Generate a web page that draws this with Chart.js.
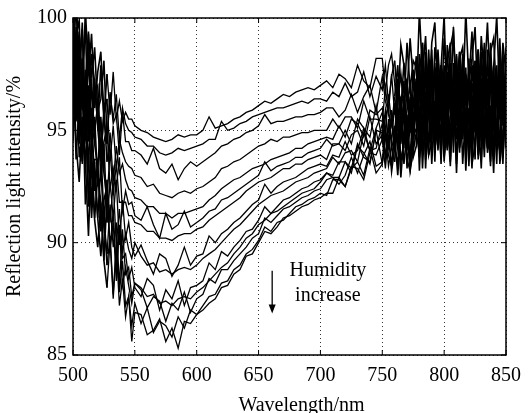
<!DOCTYPE html>
<html lang="en">
<head>
<meta charset="UTF-8">
<title>Reflection spectra vs humidity</title>
<script src="https://cdn.jsdelivr.net/npm/chart.js"></script>
<style>
  html, body { margin: 0; padding: 0; background: #fff; }
  #wrap { width: 530px; height: 413px; }
</style>
</head>
<body>
<div id="wrap"><canvas id="chart"></canvas></div>
<script>
// wavelength axis (nm): denser sampling where the spectra are noisy
const wavelengths = [
  500, 502.5, 505, 507.5, 510, 512.5, 515, 517.5, 520, 522.5, 525, 527.5, 530, 532.5, 535, 537.5, 540, 542.5, 545, 547.5, 550,
  555, 560, 565, 570, 575, 580, 585, 590, 595, 600, 605, 610, 615, 620, 625, 630, 635, 640, 645,
  650, 655, 660, 665, 670, 675, 680, 685, 690, 695, 700, 705, 710, 715, 720, 725, 730, 735, 740, 745,
  750, 752.5, 755, 757.5, 760, 762.5, 765, 767.5, 770, 772.5, 775, 777.5, 780, 782.5, 785, 787.5, 790, 792.5, 795, 797.5,
  800, 802.5, 805, 807.5, 810, 812.5, 815, 817.5, 820, 822.5, 825, 827.5, 830, 832.5, 835, 837.5, 840, 842.5, 845, 847.5, 850
];

// reflection intensity (%), top (dry) to bottom (humid)
const curve1 = [
  101.0, 97.3, 99.4, 95.9, 100.4, 97.5, 99.3, 96.0, 97.6, 98.5, 95.6, 97.5, 95.7, 97.6, 95.5, 96.3, 95.4, 95.8, 95.5, 95.5, 95.2,
  95.0, 94.9, 94.7, 94.6, 94.5, 94.6, 94.8, 94.7, 94.8, 94.8, 95.0, 95.6, 95.1, 95.2, 95.3, 95.5, 95.6, 95.8, 95.9,
  96.1, 96.3, 96.2, 96.4, 96.6, 96.5, 96.7, 96.8, 96.9, 96.8, 97.0, 97.2, 96.9, 97.5, 97.3, 96.9, 97.9, 97.2, 96.9, 98.2,
  98.2, 96.7, 97.9, 98.4, 97.1, 96.1, 98.8, 97.9, 96.7, 99.1, 97.2,
  96.2, 100.3, 97.5, 99.2, 95.9, 98.9, 99.8, 96.4, 97.8, 100.1, 95.7, 98.7, 99.4, 96.8, 98.5,
  96.2, 100.3, 97.1, 98.2, 99.6, 95.9, 99.2, 97.3, 99.8, 96.6, 97.8, 100.1, 96.2, 98.9, 97.5
];
const curve2 = [
  97.2, 101.0, 97.7, 99.5, 95.5, 99.3, 97.3, 98.7, 95.9, 96.4, 98.1, 94.7, 96.6, 95.5, 96.6, 94.6, 96.0, 95.3, 95.0, 94.9, 94.7,
  94.6, 94.3, 94.3, 94.0, 93.9, 94.0, 94.2, 94.1, 94.2, 94.3, 94.4, 94.6, 94.6, 95.4, 95.0, 95.1, 95.3, 95.4, 95.6,
  95.7, 95.8, 95.9, 96.0, 96.0, 96.1, 96.2, 96.3, 96.2, 96.4, 96.4, 96.3, 96.7, 96.5, 97.1, 96.5, 96.7, 97.6, 96.5, 97.4,
  96.8, 97.9, 96.2, 97.4, 98.1, 96.3, 97.5, 96.0, 98.9, 96.8, 98.1,
  97.8, 95.2, 98.9, 96.1, 98.0, 95.0, 98.7, 97.5, 95.7, 99.1, 96.8, 95.9, 99.6, 95.2, 98.2,
  98.7, 96.1, 97.1, 99.4, 95.5, 98.0, 96.8, 98.9, 95.0, 98.5, 99.1, 96.4, 97.8, 95.2, 98.7
];
const curve3 = [
  99.5, 100.9, 96.4, 97.6, 99.6, 95.0, 98.4, 97.1, 95.3, 97.9, 95.5, 94.4, 96.7, 95.3, 95.7, 93.9, 95.8, 94.5, 94.5, 94.1, 94.1,
  93.9, 93.5, 94.2, 93.3, 93.1, 93.5, 92.8, 93.3, 93.6, 93.4, 93.6, 93.8, 94.0, 94.3, 94.4, 94.6, 94.7, 94.9, 95.0,
  95.2, 95.7, 95.3, 95.4, 95.4, 95.5, 95.6, 95.6, 95.7, 95.7, 95.8, 96.0, 96.0, 95.6, 95.9, 96.6, 95.8, 96.5, 97.0, 95.8,
  97.4, 96.3, 95.8, 97.5, 95.7, 97.3, 95.9, 98.0, 96.5, 95.3, 97.7,
  95.9, 97.5, 98.9, 94.5, 97.3, 98.2, 95.2, 98.6, 96.1, 95.4, 98.0, 98.9, 95.0, 97.0, 94.5,
  98.4, 96.3, 97.7, 95.2, 97.3, 98.6, 94.5, 98.2, 96.1, 98.9, 95.6, 96.3, 99.1, 95.4, 97.5
];
const curve4 = [
  96.3, 99.2, 99.9, 96.0, 97.0, 99.4, 94.6, 96.8, 97.0, 94.0, 95.7, 96.4, 93.7, 95.2, 93.3, 94.6, 94.0, 93.6, 93.4, 93.3, 93.0,
  92.9, 92.5, 92.6, 92.2, 92.1, 92.0, 92.2, 92.3, 92.2, 92.4, 92.5, 92.7, 92.9, 93.3, 93.4, 93.6, 93.7, 93.9, 94.1,
  94.3, 94.4, 94.6, 94.5, 94.7, 94.7, 94.8, 94.9, 94.9, 95.0, 95.0, 95.0, 95.5, 95.1, 95.6, 95.6, 95.1, 96.3, 95.5, 95.5,
  95.4, 96.9, 95.7, 95.2, 96.5, 97.9, 95.2, 96.1, 97.3, 94.9, 96.8,
  98.3, 94.2, 97.0, 95.3, 98.6, 95.6, 94.7, 98.1, 96.7, 94.4, 98.8, 95.8, 95.1, 97.7, 96.0,
  98.3, 94.2, 97.4, 96.3, 94.9, 98.6, 95.3, 97.2, 94.7, 97.9, 96.7, 94.4, 98.3, 95.6, 97.0
];
const curve5 = [
  96.5, 99.6, 96.9, 99.8, 94.7, 97.0, 94.6, 97.3, 95.1, 93.6, 95.9, 93.6, 94.9, 92.7, 94.3, 93.1, 93.5, 92.8, 92.4, 92.3, 92.0,
  91.9, 91.6, 91.6, 91.3, 91.3, 91.1, 91.3, 91.3, 91.4, 91.5, 91.6, 91.9, 92.1, 92.4, 92.6, 92.8, 92.9, 93.1, 93.3,
  93.4, 93.5, 93.7, 93.8, 93.9, 94.0, 94.2, 94.2, 94.4, 94.5, 94.6, 94.7, 94.6, 95.2, 94.7, 95.5, 95.3, 94.7, 95.9, 95.7,
  96.0, 94.9, 96.6, 95.4, 94.7, 96.9, 95.7, 97.2, 94.3, 96.4, 95.1,
  95.8, 98.4, 94.7, 97.5, 95.6, 98.6, 94.9, 96.1, 97.9, 94.5, 96.8, 97.7, 94.0, 98.4, 95.4,
  94.9, 97.5, 96.5, 94.2, 98.1, 95.6, 96.8, 94.7, 98.6, 95.1, 94.5, 97.2, 95.8, 98.4, 94.9
];
const curve6 = [
  97.5, 95.4, 99.2, 97.3, 94.6, 98.5, 94.4, 95.0, 96.1, 92.8, 94.5, 95.1, 92.4, 93.3, 92.4, 93.8, 91.4, 92.3, 91.7, 91.8, 91.2,
  91.0, 91.6, 90.8, 90.2, 91.3, 90.6, 90.8, 91.4, 90.7, 90.9, 91.1, 91.4, 91.5, 91.9, 92.0, 92.2, 92.4, 92.6, 92.8,
  93.0, 93.6, 93.2, 93.4, 93.5, 93.6, 93.8, 93.8, 94.0, 94.1, 94.2, 94.6, 94.3, 94.4, 95.0, 94.4, 95.5, 95.1, 94.7, 96.1,
  94.5, 95.6, 96.1, 94.4, 96.2, 95.1, 96.5, 94.4, 95.9, 97.1, 94.7,
  97.1, 95.5, 94.1, 98.5, 95.7, 94.8, 97.8, 94.4, 96.9, 97.6, 95.0, 94.1, 98.0, 96.0, 98.5,
  94.6, 96.7, 95.3, 97.8, 95.7, 94.4, 98.5, 94.8, 96.9, 94.1, 97.4, 96.7, 93.9, 97.6, 95.5
];
const curve7 = [
  100.2, 96.5, 95.1, 98.2, 96.4, 93.3, 97.3, 94.4, 93.3, 95.6, 93.1, 91.9, 94.1, 92.1, 93.5, 91.8, 91.8, 91.8, 91.2, 91.2, 90.9,
  90.8, 90.5, 90.5, 90.2, 90.2, 90.1, 90.3, 90.4, 90.4, 90.6, 90.7, 91.0, 91.2, 91.4, 91.6, 91.8, 92.0, 92.3, 92.5,
  92.7, 92.8, 92.9, 93.1, 93.3, 93.3, 93.5, 93.5, 93.7, 93.8, 93.9, 93.7, 94.4, 94.4, 94.1, 94.8, 95.0, 94.3, 95.6, 94.4,
  94.8, 95.9, 94.2, 95.4, 96.1, 94.5, 95.7, 94.2, 97.1, 95.0, 96.3,
  95.5, 96.9, 94.2, 98.1, 95.8, 94.6, 97.8, 95.3, 97.2, 93.9, 97.6, 96.2, 95.1, 98.3, 94.2,
  96.5, 94.8, 97.4, 96.7, 93.7, 98.1, 95.8, 94.4, 97.8, 96.9, 93.9, 97.2, 95.5, 98.3, 94.2
];
const curve8 = [
  95.7, 99.2, 95.8, 97.3, 93.1, 96.7, 94.5, 95.6, 92.6, 92.9, 94.4, 90.9, 92.7, 91.1, 92.8, 89.9, 91.9, 90.2, 90.9, 89.8, 89.4,
  89.9, 89.2, 88.6, 89.5, 89.3, 88.5, 89.0, 89.8, 89.0, 89.4, 89.5, 90.3, 90.0, 90.4, 90.6, 90.9, 91.1, 91.4, 91.7,
  91.9, 92.6, 92.2, 92.5, 92.7, 92.8, 92.9, 93.1, 93.3, 93.4, 93.5, 93.4, 93.9, 93.8, 94.5, 93.9, 94.1, 95.1, 94.1, 95.1,
  95.8, 94.7, 94.2, 95.9, 94.1, 95.8, 94.4, 96.5, 95.0, 93.8, 96.2,
  97.3, 93.8, 96.4, 95.0, 97.7, 97.1, 93.6, 97.5, 95.4, 96.6, 94.1, 98.0, 95.7, 94.7, 97.3,
  96.8, 93.8, 98.2, 94.5, 95.4, 97.7, 94.3, 96.1, 97.3, 93.6, 96.6, 94.7, 97.5, 93.8, 96.4
];
const curve9 = [
  99.5, 95.5, 97.3, 93.5, 97.7, 94.5, 96.0, 92.3, 93.6, 94.2, 91.0, 92.8, 90.9, 92.7, 89.9, 91.5, 89.6, 90.4, 89.7, 89.3, 90.0,
  89.4, 89.0, 89.1, 88.7, 88.8, 88.6, 88.8, 88.9, 88.8, 89.0, 89.3, 89.5, 89.7, 90.0, 90.3, 90.6, 90.8, 91.1, 91.4,
  91.7, 91.9, 92.1, 92.2, 92.3, 92.5, 92.7, 92.8, 92.9, 93.1, 93.2, 93.3, 93.8, 93.5, 94.0, 94.1, 93.6, 94.9, 94.1, 94.2,
  95.3, 93.8, 95.0, 95.5, 94.2, 93.5, 96.2, 95.3, 94.1, 96.5, 94.6,
  96.5, 94.4, 98.1, 95.3, 94.6, 97.9, 95.1, 97.2, 93.5, 97.6, 96.3, 94.2, 96.7, 95.3, 97.4,
  93.5, 96.0, 94.0, 97.9, 97.0, 94.4, 95.1, 97.6, 94.2, 97.2, 96.3, 93.5, 97.9, 96.5, 94.9
];
const curve10 = [
  94.8, 97.5, 97.9, 93.9, 94.6, 96.8, 91.7, 93.7, 93.7, 90.5, 91.9, 92.5, 89.8, 91.4, 88.7, 90.7, 89.3, 89.5, 88.4, 88.9, 88.0,
  87.6, 88.4, 88.1, 87.0, 87.9, 87.5, 88.3, 87.2, 88.0, 88.1, 88.3, 89.1, 88.8, 89.6, 89.4, 89.8, 90.1, 90.5, 90.6,
  91.0, 91.6, 91.3, 91.6, 91.9, 92.0, 92.2, 92.4, 92.5, 92.7, 92.8, 93.1, 93.0, 93.6, 93.6, 93.3, 94.4, 93.8, 93.6, 95.0,
  94.9, 93.8, 95.5, 94.3, 93.6, 95.9, 94.7, 96.2, 93.3, 95.4, 94.1,
  96.3, 94.9, 97.6, 93.7, 96.0, 97.2, 94.0, 96.5, 94.6, 97.9, 94.2, 95.6, 96.7, 93.5, 97.6,
  95.3, 97.0, 94.4, 95.1, 98.1, 93.7, 96.0, 97.4, 94.0, 94.9, 97.9, 94.6, 96.3, 93.5, 97.6
];
const curve11 = [
  97.5, 98.6, 93.8, 94.8, 96.5, 91.6, 94.7, 93.1, 91.1, 93.4, 90.7, 89.5, 91.7, 89.8, 90.9, 88.1, 90.6, 88.6, 88.9, 87.6, 88.2,
  88.0, 87.6, 87.7, 87.3, 87.4, 87.2, 87.5, 87.6, 87.5, 87.8, 88.0, 88.3, 88.6, 88.9, 89.1, 89.5, 89.8, 90.2, 90.4,
  90.8, 91.0, 91.3, 91.4, 91.6, 91.8, 92.0, 92.2, 92.3, 92.4, 92.7, 93.1, 92.9, 92.9, 93.6, 93.1, 94.3, 94.0, 93.5, 95.0,
  93.5, 94.6, 95.1, 93.4, 95.2, 94.2, 95.6, 93.5, 95.0, 96.2, 93.8,
  94.3, 97.8, 95.2, 96.6, 93.9, 94.5, 98.0, 94.1, 96.2, 95.0, 97.5, 93.6, 95.9, 96.9, 94.3,
  94.8, 97.8, 93.4, 97.1, 96.2, 93.9, 97.3, 95.5, 94.3, 98.0, 95.0, 96.9, 94.1, 97.8, 95.2
];
const curve12 = [
  98.3, 93.7, 96.2, 93.6, 96.7, 92.2, 93.3, 91.1, 93.0, 91.8, 89.2, 92.1, 89.7, 90.9, 88.3, 90.8, 88.1, 88.9, 88.1, 87.3, 88.2,
  87.9, 87.1, 87.6, 87.4, 86.5, 87.3, 87.0, 87.8, 86.9, 87.5, 87.7, 88.4, 88.2, 88.8, 88.8, 89.2, 89.5, 89.8, 90.2,
  90.4, 91.1, 90.9, 91.2, 91.5, 91.6, 91.8, 92.0, 92.1, 92.3, 92.4, 92.8, 92.9, 92.6, 93.0, 93.8, 93.1, 93.9, 94.5, 93.4,
  93.6, 95.1, 93.9, 93.4, 94.7, 96.3, 93.6, 94.5, 95.7, 93.3, 95.2,
  94.9, 97.0, 93.3, 96.1, 96.8, 93.5, 96.3, 94.2, 97.9, 93.8, 95.1, 97.2, 94.7, 96.1, 94.0,
  97.9, 95.4, 97.4, 93.5, 94.4, 97.0, 96.3, 93.8, 97.2, 94.2, 95.1, 97.9, 93.5, 94.9, 96.5
];
const curve13 = [
  94.5, 97.4, 94.4, 97.1, 91.7, 93.8, 91.1, 93.6, 91.1, 89.4, 91.4, 89.0, 90.3, 87.7, 89.9, 87.8, 89.2, 87.2, 87.6, 86.3, 87.3,
  86.4, 87.1, 86.0, 86.5, 86.3, 85.8, 86.7, 86.2, 87.0, 86.8, 87.2, 87.6, 87.7, 88.2, 88.3, 88.8, 89.0, 89.5, 89.7,
  90.1, 90.7, 90.5, 90.9, 91.0, 91.3, 91.6, 91.7, 91.9, 92.0, 92.2, 92.1, 92.8, 92.8, 92.5, 93.3, 93.6, 93.0, 94.2, 93.1,
  93.5, 94.9, 93.4, 94.2, 94.8, 93.0, 95.1, 95.7, 93.7, 93.2, 95.4,
  97.3, 93.2, 96.4, 95.3, 93.9, 97.6, 94.3, 96.2, 93.7, 96.9, 95.7, 93.4, 97.3, 94.6, 96.0,
  97.3, 93.2, 96.0, 94.3, 97.6, 94.6, 93.7, 97.1, 95.7, 93.4, 97.8, 94.8, 94.1, 96.7, 95.0
];
const curve14 = [
  98.2, 94.4, 92.7, 95.6, 93.6, 90.3, 94.2, 91.0, 89.8, 91.8, 89.2, 88.0, 90.1, 87.5, 89.8, 87.2, 88.4, 86.7, 87.6, 85.6, 86.9,
  86.8, 85.9, 86.1, 86.6, 85.6, 86.2, 85.3, 86.5, 86.4, 86.8, 87.0, 87.3, 87.5, 88.0, 88.1, 88.6, 88.8, 89.4, 89.5,
  90.0, 90.5, 90.4, 90.7, 91.1, 91.2, 91.4, 91.6, 91.7, 91.9, 92.0, 92.2, 92.2, 92.9, 92.5, 93.4, 93.3, 92.8, 94.0, 93.9,
  94.6, 93.3, 94.8, 93.1, 94.2, 95.6, 92.9, 94.8, 95.4, 93.2, 94.1,
  94.9, 94.0, 97.7, 93.3, 96.3, 96.8, 94.2, 95.2, 97.5, 93.6, 96.1, 94.9, 97.0, 93.1, 96.6,
  97.2, 94.5, 95.9, 93.3, 96.8, 95.9, 93.3, 97.0, 94.2, 96.1, 93.1, 96.8, 95.6, 93.8, 97.2
];

const curves = [curve1, curve2, curve3, curve4, curve5, curve6, curve7,
                curve8, curve9, curve10, curve11, curve12, curve13, curve14];

const xTicks = [500, 550, 600, 650, 700, 750, 800, 850];
const yTicks = [85, 90, 95, 100];

const serif = '"Liberation Serif", "Times New Roman", serif';

// box, inner tick marks, axis titles and the humidity note
const frame = {
  id: 'frame',
  afterDraw(chart) {
    const {ctx, chartArea: a, scales: {x, y}} = chart;
    ctx.save();
    ctx.strokeStyle = '#000';
    ctx.lineWidth = 1.5;
    ctx.strokeRect(a.left, a.top, a.right - a.left, a.bottom - a.top);

    ctx.lineWidth = 1;
    ctx.beginPath();
    xTicks.forEach(v => {
      const px = x.getPixelForValue(v);
      ctx.moveTo(px, a.bottom); ctx.lineTo(px, a.bottom - 5);
      ctx.moveTo(px, a.top); ctx.lineTo(px, a.top + 5);
    });
    yTicks.forEach(v => {
      const py = y.getPixelForValue(v);
      ctx.moveTo(a.left, py); ctx.lineTo(a.left + 5, py);
      ctx.moveTo(a.right, py); ctx.lineTo(a.right - 5, py);
    });
    ctx.stroke();

    ctx.fillStyle = '#000';
    ctx.font = '20px ' + serif;
    ctx.textAlign = 'center';
    ctx.textBaseline = 'middle';
    ctx.fillText('Wavelength/nm', (a.left + a.right) / 2 + 12, 406);

    ctx.save();
    ctx.translate(15, (a.top + a.bottom) / 2);
    ctx.rotate(-Math.PI / 2);
    ctx.fillText('Reflection light intensity/%', 0, 0);
    ctx.restore();

    ctx.fillText('Humidity', x.getPixelForValue(706), y.getPixelForValue(88.75));
    ctx.fillText('increase', x.getPixelForValue(706), y.getPixelForValue(87.65));

    // arrow
    const ax = x.getPixelForValue(661);
    const y0 = y.getPixelForValue(88.75);
    const y1 = y.getPixelForValue(86.85);
    ctx.lineWidth = 1.3;
    ctx.beginPath();
    ctx.moveTo(ax, y0); ctx.lineTo(ax, y1 - 6);
    ctx.stroke();
    ctx.beginPath();
    ctx.moveTo(ax - 3.5, y1 - 9);
    ctx.lineTo(ax + 3.5, y1 - 9);
    ctx.lineTo(ax, y1);
    ctx.closePath();
    ctx.fill();
    ctx.restore();
  }
};

new Chart(document.getElementById('chart'), {
  type: 'line',
  data: {
    datasets: curves.map(c => ({
      data: wavelengths.map((w, i) => ({x: w, y: c[i]})),
      borderColor: '#000',
      borderWidth: 1.3,
      // the noisy ends of the spectra read as heavier ink
      segment: {
        borderWidth: s => (s.p0.parsed.x >= 760 || s.p1.parsed.x <= 527.5) ? 1.6 : 1.3
      },
      pointRadius: 0,
      tension: 0,
      fill: false
    }))
  },
  options: {
    responsive: true,
    maintainAspectRatio: false,
    animation: false,
    events: [],
    layout: { padding: { left: 0, right: 18, top: 15, bottom: 0 } },
    plugins: { legend: { display: false }, tooltip: { enabled: false } },
    scales: {
      x: {
        type: 'linear', min: 500, max: 850,
        afterFit(s) { s.height = 58; },
        afterBuildTicks(s) { s.ticks = xTicks.map(v => ({value: v})); },
        ticks: { color: '#000', padding: 9, maxRotation: 0, font: { family: serif, size: 20 } },
        grid: { drawTicks: false, color: '#333', lineWidth: 1 },
        border: { display: false, dash: [1, 3] }
      },
      y: {
        min: 85, max: 100,
        afterFit(s) { s.width = 73; },
        afterBuildTicks(s) { s.ticks = yTicks.map(v => ({value: v})); },
        ticks: { color: '#000', padding: 6, font: { family: serif, size: 20 } },
        grid: { drawTicks: false, color: '#333', lineWidth: 1 },
        border: { display: false, dash: [1, 3] }
      }
    }
  },
  plugins: [frame]
});
</script>
</body>
</html>
